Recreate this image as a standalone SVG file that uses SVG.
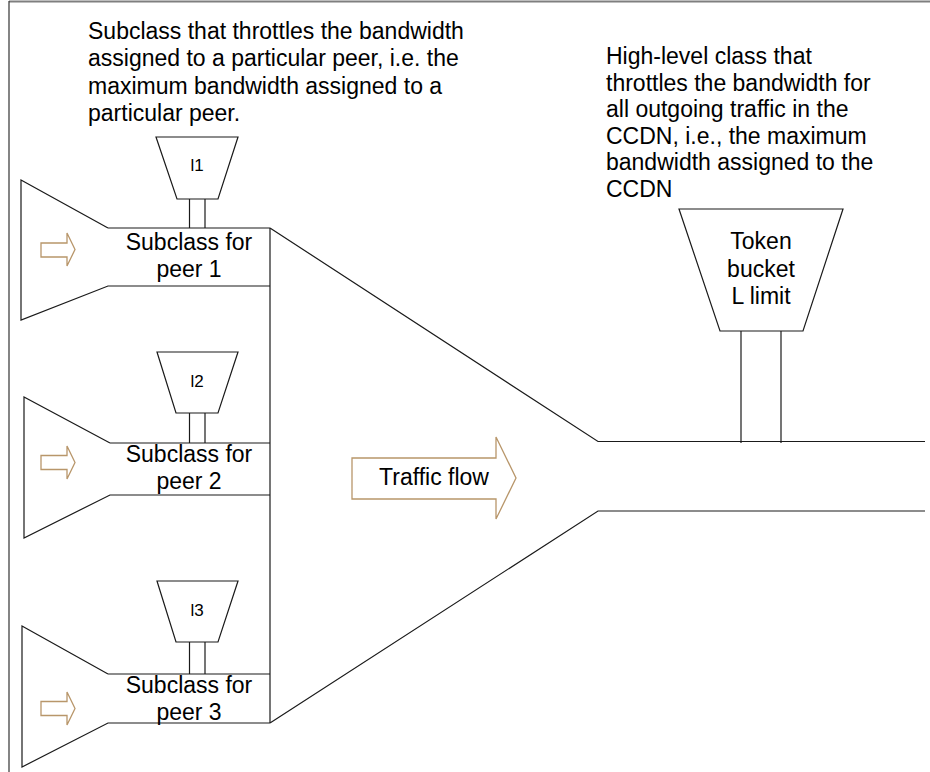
<svg xmlns="http://www.w3.org/2000/svg" width="930" height="772" viewBox="0 0 930 772">
<style>
.ln{fill:none;stroke:#1a1a1a;stroke-width:1.2}
.sh{fill:#fff;stroke:#1a1a1a;stroke-width:1.2}
.ar{fill:#fff;stroke:#b8966a;stroke-width:1.3}
text{font-family:"Liberation Sans",Arial,sans-serif;fill:#000}
.t20{font-size:23px}
.t15{font-size:17px}
.c{text-anchor:middle}
</style>
<rect width="930" height="772" fill="#fff"/>
<g id="frame">
<line x1="9" y1="1.5" x2="930" y2="1.5" stroke="#7f7f7f" stroke-width="2"/>
<line x1="9" y1="1" x2="9" y2="772" stroke="#333" stroke-width="1.2"/>
</g>
<g id="notes">
<text class="t20"><tspan x="88" y="39">Subclass that throttles the bandwidth</tspan><tspan x="88" y="66">assigned to a particular peer, i.e. the</tspan><tspan x="88" y="94">maximum bandwidth assigned to a</tspan><tspan x="88" y="121">particular peer.</tspan></text>
<text class="t20"><tspan x="606" y="64">High-level class that</tspan><tspan x="606" y="90.6">throttles the bandwidth for</tspan><tspan x="606" y="117.2">all outgoing traffic in the</tspan><tspan x="606" y="143.8">CCDN, i.e., the maximum</tspan><tspan x="606" y="170.4">bandwidth assigned to the</tspan><tspan x="606" y="197">CCDN</tspan></text>
</g>
<g id="connectors">
<polyline class="ln" points="270,228 270,723"/>
<polyline class="ln" points="270,228 598,441.5 925,441.5"/>
<polyline class="ln" points="270,723 598,511 925,511"/>
</g>
<g id="peer1">
<path class="ln" d="M108,228 L21,180 L21,320 L108,286 L270,286 M108,228 L270,228"/>
<polygon class="ar" points="41,243 67,243 67,233 75,249.5 67,266 67,257 41,257"/>
<text class="t20 c"><tspan x="189" y="250">Subclass for</tspan><tspan x="189" y="277">peer 1</tspan></text>
</g>
<g id="l1">
<polygon class="sh" points="156,137 238,137 218,199 177,199"/>
<line class="ln" x1="189.5" y1="199" x2="189.5" y2="228"/>
<line class="ln" x1="205" y1="199" x2="205" y2="228"/>
<text class="t15 c" x="197" y="171">l1</text>
</g>
<g id="peer2">
<path class="ln" d="M110,443 L24,397 L24,538 L110,495 L270,495 M110,443 L270,443"/>
<polygon class="ar" points="41,455.5 67,455.5 67,446 75,462.5 67,479 67,469.5 41,469.5"/>
<text class="t20 c"><tspan x="189" y="462">Subclass for</tspan><tspan x="189" y="489">peer 2</tspan></text>
</g>
<g id="l2">
<polygon class="sh" points="157,352 238,352 218,413 176,413"/>
<line class="ln" x1="189.5" y1="413" x2="189.5" y2="443"/>
<line class="ln" x1="205" y1="413" x2="205" y2="443"/>
<text class="t15 c" x="197" y="387">l2</text>
</g>
<g id="peer3">
<path class="ln" d="M108,674 L22,626 L22,767 L108,723 L270,723 M108,674 L270,674"/>
<polygon class="ar" points="41,701.5 67,701.5 67,692 75,708.5 67,725 67,715.5 41,715.5"/>
<text class="t20 c"><tspan x="189" y="693">Subclass for</tspan><tspan x="189" y="720">peer 3</tspan></text>
</g>
<g id="l3">
<polygon class="sh" points="157,581 238,581 218,642 176,642"/>
<line class="ln" x1="189.5" y1="642" x2="189.5" y2="674"/>
<line class="ln" x1="205" y1="642" x2="205" y2="674"/>
<text class="t15 c" x="197" y="616">l3</text>
</g>
<g id="traffic-flow">
<polygon class="ar" points="352,458 496,458 496,437 516,478 496,519 496,499 352,499"/>
<text class="t20 c" x="434" y="485">Traffic flow</text>
</g>
<g id="token-bucket">
<polygon class="sh" points="679,209 843,209 803,331 720,331"/>
<line class="ln" x1="741" y1="331" x2="741" y2="443"/>
<line class="ln" x1="781" y1="331" x2="781" y2="443"/>
<text class="t20 c"><tspan x="761" y="249">Token</tspan><tspan x="761" y="277">bucket</tspan><tspan x="761" y="304">L limit</tspan></text>
</g>
</svg>
